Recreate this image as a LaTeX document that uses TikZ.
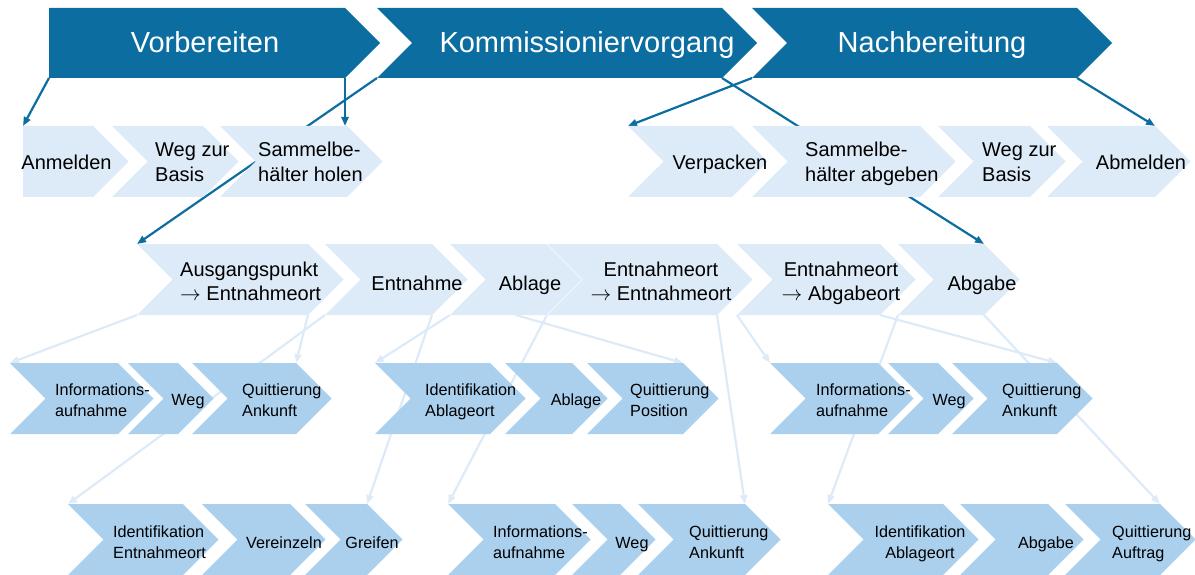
\documentclass[tikz,border=0pt]{standalone}
\usepackage{fontspec}
\setmainfont{Liberation Sans}
\usetikzlibrary{arrows.meta}
\pgfdeclarelayer{background}
\pgfsetlayers{background,main}

\definecolor{dkblue}{RGB}{12,110,160}
\definecolor{ltblue}{RGB}{221,235,248}
\definecolor{mdblue}{RGB}{170,208,238}

% chevron with notch: name, colour, left x, top-right x, top y, bottom y
\newcommand\chev[6]{%
  \fill[#2] (#3,#5) -- (#4,#5) -- ({#4+(#6-#5)/2},{(#5+#6)/2}) -- (#4,#6) -- (#3,#6)
    -- ({#3+(#6-#5)/2},{(#5+#6)/2}) -- cycle;
  \coordinate (#1-nw) at (#3,#5);
  \coordinate (#1-ne) at (#4,#5);
  \coordinate (#1-sw) at (#3,#6);
  \coordinate (#1-se) at (#4,#6);
  \coordinate (#1-s) at ({(#3+#4+(#6-#5)/2)/2},#6);
}
% chevron with flat left edge
\newcommand\chevflat[6]{%
  \fill[#2] (#3,#5) -- (#4,#5) -- ({#4+(#6-#5)/2},{(#5+#6)/2}) -- (#4,#6) -- (#3,#6) -- cycle;
  \coordinate (#1-nw) at (#3,#5);
  \coordinate (#1-ne) at (#4,#5);
  \coordinate (#1-sw) at (#3,#6);
  \coordinate (#1-se) at (#4,#6);
}

% multi-line labels are placed by the baseline of their last line
\tikzset{
  phase/.style={text=white, inner sep=0pt, anchor=base, font=\fontsize{29}{34}\selectfont},
  stage/.style={text=black, inner sep=0pt, font=\fontsize{20}{25}\selectfont},
  stageL/.style={stage, anchor=base west, align=left},
  stageC/.style={stage, anchor=base},
  stageM/.style={text=black, inner sep=0pt, anchor=base, align=center, font=\fontsize{20}{24}\selectfont},
  stageN/.style={text=black, inner sep=0pt, anchor=base west, align=left, font=\fontsize{20}{24}\selectfont},
  task/.style={text=black, inner sep=0pt, font=\fontsize{16.2}{21}\selectfont},
  taskL/.style={task, anchor=base west, align=left},
  taskC/.style={task, anchor=base, align=center},
  dkline/.style={draw=dkblue, line width=2.2pt, -{Triangle[length=9pt,width=7pt]}},
  ltline/.style={draw=ltblue, line width=2.2pt, -{Triangle[length=9pt,width=7pt]}},
}

\begin{document}
\begin{tikzpicture}[x=1pt, y=-1pt]
\useasboundingbox (0,0) rectangle (1195,575);

% phases
\chevflat{V1}{dkblue}{49}{345}{8}{78}
\chev{V2}{dkblue}{377}{722}{8}{78}
\chev{V3}{dkblue}{752}{1077}{8}{78}
\node[phase] (tV1) at (205,53) {Vorbereiten};
\node[phase] (tV2) at (587,53) {Kommissioniervorgang};
\node[phase] (tV3) at (932,53) {Nachbereitung};

% main steps
\chevflat{Anm}{ltblue}{23}{93}{126}{197}
\chev{WegL}{ltblue}{112}{203}{126}{197}
\chev{SamH}{ltblue}{220}{347}{126}{197}
\chev{Verp}{ltblue}{628}{732}{126}{197}
\chev{SamA}{ltblue}{752}{920}{126}{197}
\chev{WegR}{ltblue}{938}{1030}{126}{197}
\chev{Abm}{ltblue}{1047}{1155}{126}{197}
\node[stageC] (tAnm) at (66.5,170) {Anmelden};
\node[stageL] (tWegL) at (155,182) {Weg zur\\Basis};
\node[stageL] (tSamH) at (258,182) {Sammelbe-\\hälter holen};
\node[stageC] (tVerp) at (720,170) {Verpacken};
\node[stageL] (tSamA) at (805,182) {Sammelbe-\\hälter abgeben};
\node[stageL] (tWegR) at (982,182) {Weg zur\\Basis};
\node[stageC] (tAbm) at (1141,170) {Abmelden};

% picking steps
\chev{Ausg}{ltblue}{137}{308}{244}{315}
\chev{Entn}{ltblue}{325}{432}{244}{315}
\chev{Abl}{ltblue}{450}{546}{244}{315}
\chev{EE}{ltblue}{547}{717}{244}{315}
\chev{EA}{ltblue}{737}{880}{244}{315}
\chev{Abg}{ltblue}{898}{984}{244}{315}
\node[stageN] (tAusg) at (180,300) {Ausgangspunkt\\$\rightarrow$ Entnahmeort};
\node[stageC] (tEntn) at (417,290) {Entnahme};
\node[stageC] (tAbl) at (530,290) {Ablage};
\node[stageM] (tEE) at (661,300) {Entnahmeort\\$\rightarrow$ Entnahmeort};
\node[stageM] (tEA) at (841,300) {Entnahmeort\\$\rightarrow$ Abgabeort};
\node[stageC] (tAbg) at (982,290) {Abgabe};

% sub-tasks, first level
\chev{InfoA}{mdblue}{10}{118}{363}{434}
\chev{WegA}{mdblue}{128}{178}{363}{434}
\chev{QuA}{mdblue}{192}{296}{363}{434}
\chev{IdB}{mdblue}{375}{490}{363}{434}
\chev{AblB}{mdblue}{505}{572}{363}{434}
\chev{QPos}{mdblue}{587}{683}{363}{434}
\chev{InfoC}{mdblue}{770}{878}{363}{434}
\chev{WegC}{mdblue}{888}{938}{363}{434}
\chev{QuC}{mdblue}{952}{1057}{363}{434}
\node[taskL] (tInfoA) at (55,416) {Informations-\\aufnahme};
\node[taskC] (tWegA) at (188,405) {Weg};
\node[taskL] (tQuA) at (242,416) {Quittierung\\Ankunft};
\node[taskL] (tIdB) at (425,416) {Identifikation\\Ablageort};
\node[taskC] (tAblB) at (576,405) {Ablage};
\node[taskL] (tQPos) at (630,416) {Quittierung\\Position};
\node[taskL] (tInfoC) at (816,416) {Informations-\\aufnahme};
\node[taskC] (tWegC) at (949,405) {Weg};
\node[taskL] (tQuC) at (1002,416) {Quittierung\\Ankunft};

% sub-tasks, second level
\chev{IdE}{mdblue}{68}{183}{504}{575}
\chev{Ver}{mdblue}{202}{290}{504}{575}
\chev{Gr}{mdblue}{305}{367}{504}{575}
\chev{InfoB}{mdblue}{448}{555}{504}{575}
\chev{WegB}{mdblue}{572}{620}{504}{575}
\chev{QuB}{mdblue}{638}{745}{504}{575}
\chev{IdC}{mdblue}{828}{943}{504}{575}
\chev{AbgC}{mdblue}{960}{1048}{504}{575}
\chev{QAuf}{mdblue}{1065}{1160}{504}{575}
\node[taskL] (tIdE) at (113,558) {Identifikation\\Entnahmeort};
\node[taskC] (tVer) at (284,548) {Vereinzeln};
\node[taskC] (tGr) at (372,548) {Greifen};
\node[taskL] (tInfoB) at (493,558) {Informations-\\aufnahme};
\node[taskC] (tWegB) at (632,548) {Weg};
\node[taskL] (tQuB) at (689,558) {Quittierung\\Ankunft};
\node[taskC] (tIdC) at (920,558) {Identifikation\\Ablageort};
\node[taskC] (tAbgC) at (1046,548) {Abgabe};
\node[taskL] (tQAuf) at (1112,558) {Quittierung\\Auftrag};

% connectors behind the chevrons
\begin{pgfonlayer}{background}
  \draw[dkline] (V1-sw) -- (Anm-nw);
  \draw[dkline] (V1-se) -- (V1-se |- SamH-nw);
  \draw[dkline] (V2-sw) -- (Ausg-nw);
  \draw[dkline] (V2-se) -- (Abg-ne);
  \draw[dkline] (V3-sw) -- (Verp-nw);
  \draw[dkline] (V3-se) -- (Abm-ne);

  \draw[ltline] (Ausg-sw) -- (InfoA-nw);
  \draw[ltline] (Ausg-se) -- (QuA-ne);
  \draw[ltline] (Entn-sw) -- (IdE-nw);
  \draw[ltline] (Entn-se) -- (Gr-ne);
  \draw[ltline] (Abl-sw) -- (IdB-nw);
  \draw[ltline] (Abl-s) -- (QPos-ne);
  \draw[ltline] (EE-sw) -- (InfoB-nw);
  \draw[ltline] (EE-se) -- (QuB-ne);
  \draw[ltline] (EA-sw) -- (InfoC-nw);
  \draw[ltline] (EA-se) -- (QuC-ne);
  \draw[ltline] (Abg-sw) -- (IdC-nw);
  \draw[ltline] (Abg-se) -- (QAuf-ne);
\end{pgfonlayer}
\end{tikzpicture}
\end{document}
